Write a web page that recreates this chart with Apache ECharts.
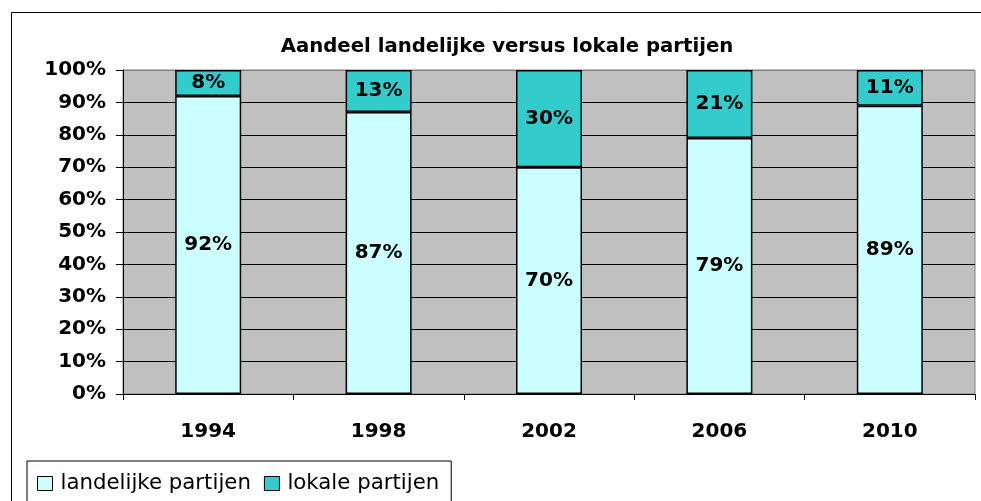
<!DOCTYPE html>
<html>
<head>
<meta charset="utf-8">
<script src="https://cdn.jsdelivr.net/npm/echarts@6/dist/echarts.min.js"></script>
<style>
  html, body { margin: 0; padding: 0; background: #fff; }
  #chart { width: 981px; height: 501px; }
</style>
</head>
<body>
<div id="chart"></div>
<script>
// data
var years = ['1994', '1998', '2002', '2006', '2010'];
var landelijk = [92, 87, 70, 79, 89];
var lokaal = [8, 13, 30, 21, 11];

var chart = echarts.init(document.getElementById('chart'));
var font = 'DejaVu Sans';

// last split line (100%) is the grey plot border
var splitColors = [];
for (var i = 0; i < 10; i++) splitColors.push('#000');
splitColors.push('#808080');

var labelStyle = {
  show: true,
  position: 'inside',
  formatter: '{c}%',
  color: '#000',
  fontFamily: font,
  fontWeight: 'bold',
  fontSize: 20
};

option = {
  backgroundColor: '#fff',
  animation: false,
  title: {
    text: 'Aandeel landelijke versus lokale partijen',
    left: 502,
    textAlign: 'center',
    top: 32,
    textStyle: { fontFamily: font, fontWeight: 'bold', fontSize: 19.7, color: '#000' }
  },
  graphic: [{
    type: 'rect',
    shape: { x: 11.5, y: 12.5, width: 1200, height: 800 },
    style: { fill: null, stroke: '#000', lineWidth: 1 },
    silent: true,
    z: -1
  }],
  legend: {
    left: 27,
    top: 461,
    orient: 'horizontal',
    padding: [12, 12, 20, 10],
    borderColor: '#000',
    borderWidth: 1,
    itemWidth: 15,
    itemHeight: 14,
    itemGap: 13,
    icon: 'rect',
    textStyle: { fontFamily: font, fontSize: 21.3, color: '#000', padding: [0, 0, 0, 3] },
    itemStyle: { borderColor: '#000', borderWidth: 1 }
  },
  grid: {
    left: 123,
    right: 6,
    top: 70,
    bottom: 107,
    show: true,
    backgroundColor: '#C0C0C0',
    borderColor: '#808080',
    borderWidth: 1
  },
  xAxis: {
    type: 'category',
    data: years,
    axisLine: { lineStyle: { color: '#000', width: 1 } },
    axisTick: { show: true, length: 6, lineStyle: { color: '#000' } },
    axisLabel: { margin: 28, color: '#000', fontFamily: font, fontWeight: 'bold', fontSize: 20 }
  },
  yAxis: {
    type: 'value',
    min: 0,
    max: 100,
    interval: 10,
    axisLine: { show: true, lineStyle: { color: '#000', width: 1 } },
    axisTick: { show: true, length: 7, lineStyle: { color: '#000' } },
    splitLine: { show: true, lineStyle: { color: splitColors, width: 1 } },
    axisLabel: { formatter: '{value}%', margin: 17, color: '#000', fontFamily: font, fontWeight: 'bold', fontSize: 20 }
  },
  series: [{
    name: 'landelijke partijen',
    type: 'bar',
    stack: 'total',
    barWidth: 66,
    data: landelijk,
    itemStyle: { color: '#CCFFFF', borderColor: '#000', borderWidth: 1.5 },
    label: labelStyle
  }, {
    name: 'lokale partijen',
    type: 'bar',
    stack: 'total',
    barWidth: 66,
    data: lokaal,
    itemStyle: { color: '#33CCCC', borderColor: '#000', borderWidth: 1.5 },
    label: labelStyle
  }]
};
chart.setOption(option);
</script>
</body>
</html>
